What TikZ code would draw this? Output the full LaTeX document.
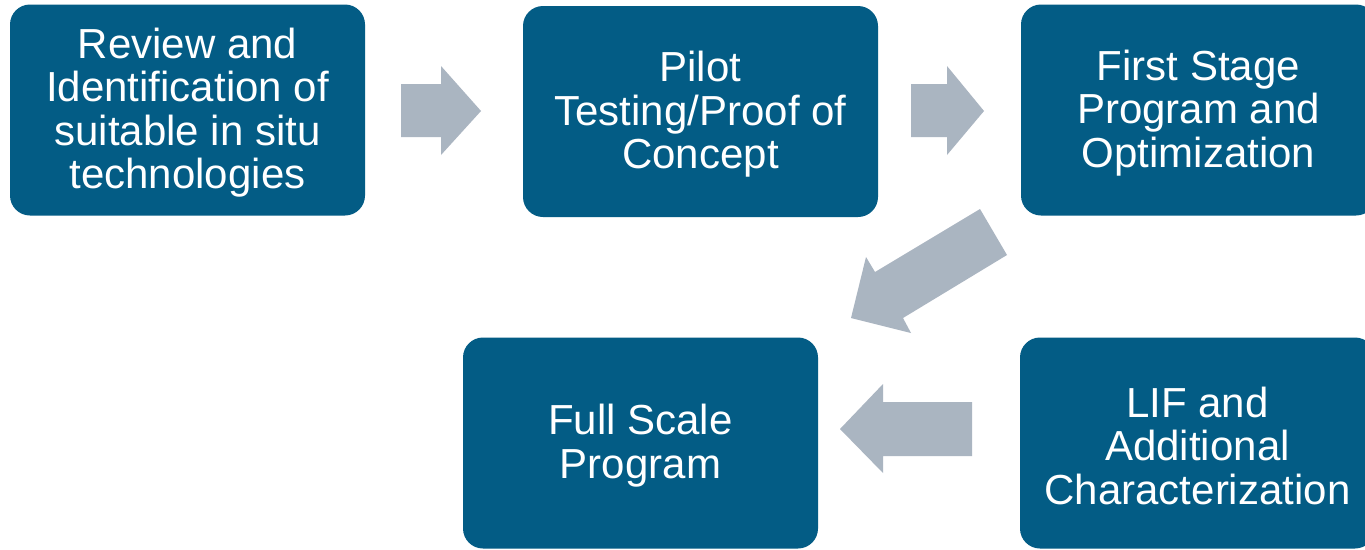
\documentclass[tikz,border=0pt]{standalone}
\usepackage{fontspec}
\setmainfont{Liberation Sans}
\definecolor{stageblue}{RGB}{3,92,133}
\definecolor{flowgray}{RGB}{170,181,193}
% taller first line, to sit the text a little lower in its box
\newcommand\firstlinestrut{\rule{0pt}{36pt}}
\begin{document}
\begin{tikzpicture}[x=1pt,y=-1pt,
  stage/.style={fill=stageblue, rounded corners=20pt, minimum width=355pt,
    minimum height=211pt, inner sep=0pt, align=center, text=white,
    font=\fontsize{42}{43.5}\selectfont},
  flow/.style={fill=flowgray, draw=none}]
\clip (0,0) rectangle (1365,549);
\fill[white] (0,0) rectangle (1365,549);

% process stages
\node[stage] (review) at (187.5,110) {\firstlinestrut Review and\\Identification of\\suitable in situ\\technologies};
\node[stage] (pilot) at (700.5,111.5) {\firstlinestrut Pilot\\Testing/Proof of\\Concept};
\node[stage] (first) at (1198.5,110) {\firstlinestrut First Stage\\Program and\\Optimization};
\node[stage] (full) at (640.5,443) {\firstlinestrut Full Scale\\Program};
\node[stage] (lif) at (1197.5,443) {\firstlinestrut LIF and\\Additional\\Characterization};

% block arrows between the stages
\fill[flow] (401,84) -- (441,84) -- (441,66) -- (481,111) -- (441,155) -- (441,137) -- (401,137) -- cycle;
\fill[flow] (911,84) -- (947,84) -- (947,66) -- (984,111) -- (947,155) -- (947,137) -- (911,137) -- cycle;
\fill[flow] (980,209) -- (875,272) -- (866,257) -- (851,318) -- (911,333) -- (903,318) -- (1007,255) -- cycle;
\fill[flow] (972,402) -- (883,402) -- (883,384) -- (840,429) -- (883,473) -- (883,456) -- (972,456) -- cycle;
\end{tikzpicture}
\end{document}
